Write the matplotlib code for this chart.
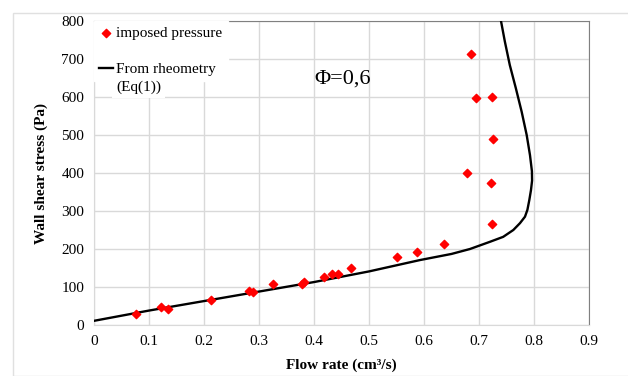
import matplotlib.pyplot as plt
from matplotlib.patches import Rectangle

plt.rcParams['font.family'] = ['Liberation Serif', 'DejaVu Serif']

# measured points (imposed pressure)
flow_pts = [0.076, 0.121, 0.134, 0.213, 0.281, 0.289, 0.326, 0.379, 0.382, 0.418,
            0.433, 0.443, 0.467, 0.550, 0.587, 0.636, 0.678, 0.686, 0.695, 0.722,
            0.723, 0.723, 0.726]
stress_pts = [28, 47, 42, 66, 90, 87, 109, 108, 112, 126,
              135, 134, 151, 178, 193, 212, 400, 712, 598, 373,
              265, 601, 490]

# rheometry curve (Eq(1))
flow_curve = [0.0, 0.1, 0.2, 0.3, 0.4, 0.5, 0.593, 0.65, 0.6836, 0.72, 0.744, 0.7624,
              0.7745, 0.7836, 0.788, 0.7915, 0.7945, 0.7965, 0.7962, 0.7927, 0.7867,
              0.7776, 0.767, 0.756, 0.747, 0.740]
stress_curve = [11, 38, 63, 88, 113, 141, 171, 187, 200, 219, 232, 250,
                268, 285, 303, 329, 355, 380, 405, 447, 500,
                561, 623, 684, 746, 800]

fig = plt.figure(figsize=(6.28, 3.76), dpi=100)
fig.patches.append(Rectangle((13 / 628, 0), 1, 1 - 13 / 376, transform=fig.transFigure,
                             fill=False, edgecolor='#e0e0e0', linewidth=1))
ax = fig.add_axes([94 / 628, 1 - 325 / 376, 495 / 628, 304 / 376])

ax.plot(flow_curve, stress_curve, color='black', linewidth=1.7,
        solid_joinstyle='round', label='From rheometry', zorder=3)
ax.scatter(flow_pts, stress_pts, marker='D', s=18, color='#ff0000',
           label='imposed pressure', zorder=4)

ax.set_xlim(0, 0.9)
ax.set_ylim(0, 800)
ax.set_xticks([0, 0.1, 0.2, 0.3, 0.4, 0.5, 0.6, 0.7, 0.8, 0.9])
ax.set_xticklabels(['0', '0.1', '0.2', '0.3', '0.4', '0.5', '0.6', '0.7', '0.8', '0.9'])
ax.set_yticks(range(0, 801, 100))
ax.grid(True, color='#d9d9d9', linewidth=1)
ax.set_axisbelow(True)
ax.tick_params(length=0, labelsize=11, pad=7)
for s in ax.spines.values():
    s.set_color('#d9d9d9')
ax.spines['right'].set_color('#808080')
ax.spines['top'].set_color('#808080')

ax.set_xlabel('Flow rate (cm³/s)', fontsize=11, fontweight='bold', labelpad=8)
ax.set_ylabel('Wall shear stress (Pa)', fontsize=11, fontweight='bold', labelpad=10)

ax.text(0.40, 648, 'Φ=0,6', fontsize=16, va='center', ha='left')

h, l = ax.get_legend_handles_labels()
leg = ax.legend(h[::-1], l[::-1], loc='upper left', fontsize=11, frameon=True,
                handlelength=0.9, handletextpad=0.2, borderaxespad=0.0,
                borderpad=0.35, labelspacing=1.45, fancybox=False, framealpha=1)
leg.get_frame().set_edgecolor('white')

# second line of the rheometry label, aligned under its first line
fig.canvas.draw()
bb = leg.get_texts()[1].get_window_extent()
x0, y0 = fig.transFigure.inverted().transform((bb.x0, bb.y0))
fig.text(x0, y0 - 0.012, '(Eq(1))', fontsize=11, ha='left', va='top', zorder=6,
         bbox=dict(facecolor='white', edgecolor='none', pad=3))

fig.savefig('out.png', dpi=100)
